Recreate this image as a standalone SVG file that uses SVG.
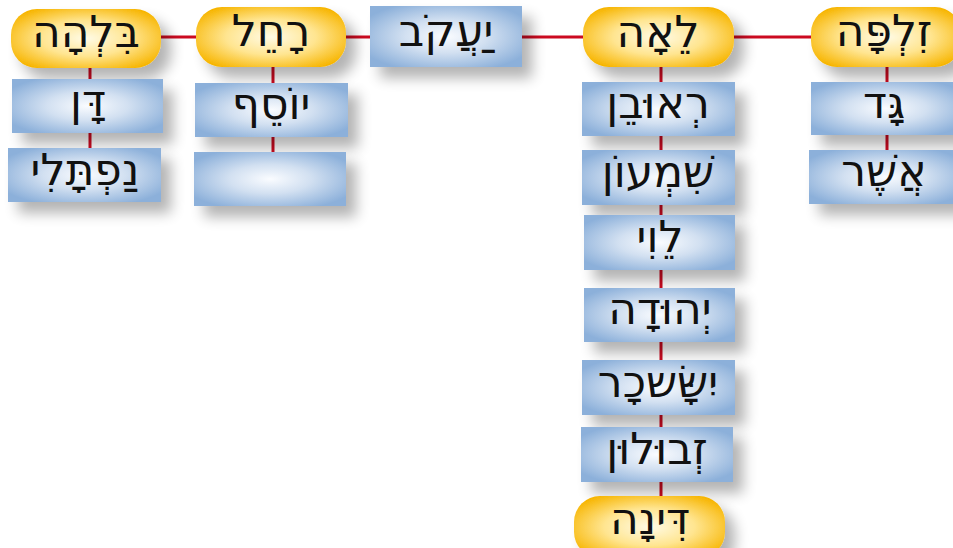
<svg xmlns="http://www.w3.org/2000/svg" width="953" height="548" viewBox="0 0 953 548">
<defs>
<radialGradient id="gBlue" cx="0.5" cy="0.5" r="0.6">
<stop offset="0" stop-color="#fafcff"/>
<stop offset="0.45" stop-color="#d2e0f1"/>
<stop offset="1" stop-color="#8cb0da"/>
</radialGradient>
<radialGradient id="gGold" cx="0.5" cy="0.5" r="0.6">
<stop offset="0" stop-color="#fffbe6"/>
<stop offset="0.5" stop-color="#ffe590"/>
<stop offset="1" stop-color="#f7b500"/>
</radialGradient>
<filter id="sh" x="-20%" y="-40%" width="160%" height="200%">
<feGaussianBlur in="SourceAlpha" stdDeviation="7"/>
<feOffset dx="10" dy="11" result="b"/>
<feComponentTransfer><feFuncA type="linear" slope="0.3"/></feComponentTransfer>
<feMerge><feMergeNode/><feMergeNode in="SourceGraphic"/></feMerge>
</filter>
</defs>
<style>
.b{fill:url(#gBlue);filter:url(#sh)}
.g{fill:url(#gGold);filter:url(#sh)}
.t{font-family:"DejaVu Sans",sans-serif;font-size:44px;fill:#111;text-anchor:middle;direction:rtl}
.c{stroke:#cc0a20;stroke-width:3;fill:none}
</style>
<g id="connectors">
<line class="c" x1="161" y1="37" x2="811" y2="37"/>
<line class="c" x1="90" y1="68" x2="90" y2="148"/>
<line class="c" x1="273" y1="67" x2="273" y2="152"/>
<line class="c" x1="661" y1="67" x2="661" y2="498"/>
<line class="c" x1="887" y1="67" x2="887" y2="150"/>
</g>
<g id="bilhah"><rect class="g" x="11" y="9" width="150" height="59" rx="26"/><text class="t" x="86" y="47">בִּלְהָה</text></g>
<g id="rachel"><rect class="g" x="196" y="7" width="150" height="60" rx="26"/><text class="t" x="271" y="46">רָחֵל</text></g>
<g id="yaakov"><rect class="b" x="370" y="6" width="152" height="61"/><text class="t" x="446" y="46">יַעֲקֹב</text></g>
<g id="leah"><rect class="g" x="583" y="7" width="151" height="60" rx="26"/><text class="t" x="658" y="47">לֵאָה</text></g>
<g id="zilpah"><rect class="g" x="811" y="7" width="150" height="60" rx="26"/><text class="t" x="884" y="46">זִלְפָּה</text></g>
<g id="dan"><rect class="b" x="12" y="79" width="151" height="54"/><text class="t" x="88" y="116">דָּן</text></g>
<g id="naftali"><rect class="b" x="8" y="148" width="153" height="54"/><text class="t" x="85" y="185">נַפְתָּלִי</text></g>
<g id="yosef"><rect class="b" x="195" y="83" width="153" height="54"/><text class="t" x="271" y="119">יוֹסֵף</text></g>
<g id="blank"><rect class="b" x="194" y="152" width="152" height="54"/></g>
<g id="reuven"><rect class="b" x="582" y="82" width="153" height="54"/><text class="t" x="658" y="118">רְאוּבֵן</text></g>
<g id="shimon"><rect class="b" x="582" y="150" width="153" height="55"/><text class="t" x="658" y="187">שִׁמְעוֹן</text></g>
<g id="levi"><rect class="b" x="584" y="215" width="151" height="55"/><text class="t" x="660" y="252">לֵוִי</text></g>
<g id="yehuda"><rect class="b" x="584" y="288" width="151" height="54"/><text class="t" x="660" y="324">יְהוּדָה</text></g>
<g id="yissachar"><rect class="b" x="582" y="360" width="153" height="55"/><text class="t" x="658" y="397">יִשָּׂשכָר</text></g>
<g id="zevulun"><rect class="b" x="581" y="427" width="152" height="55"/><text class="t" x="657" y="464">זְבוּלוּן</text></g>
<g id="dinah"><rect class="g" x="574" y="496" width="151" height="62" rx="26"/><text class="t" x="650" y="534">דִּינָה</text></g>
<g id="gad"><rect class="b" x="811" y="82" width="150" height="53"/><text class="t" x="884" y="118">גָּד</text></g>
<g id="asher"><rect class="b" x="809" y="150" width="152" height="54"/><text class="t" x="884" y="186">אֲשֶׁר</text></g>
</svg>
